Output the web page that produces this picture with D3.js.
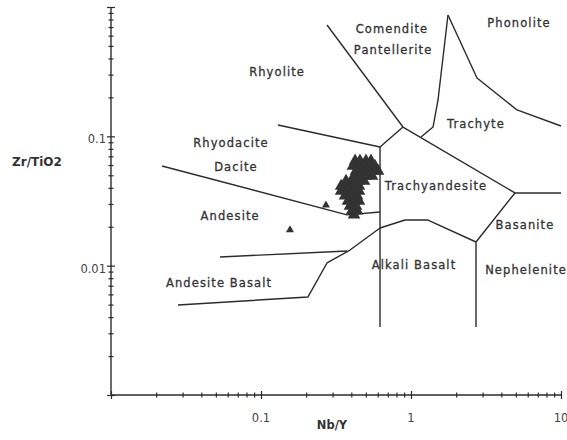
<!DOCTYPE html>
<html>
<head>
<meta charset="utf-8">
<script src="https://cdn.jsdelivr.net/npm/d3@7"></script>
<style>
  html, body { margin: 0; padding: 0; background: #fff; }
  svg { display: block; font-family: "DejaVu Sans", "Liberation Sans", Arial, sans-serif; }
</style>
</head>
<body>
<svg id="chart" width="567" height="440"></svg>
<script>
// Winchester & Floyd (1977) classification: Zr/TiO2 vs Nb/Y, both log scaled.

// Axis tick labels
const xTickLabels = [0.1, 1, 10];
const yTickLabels = [0.1, 0.01];

// Field boundaries, each as parallel [Nb/Y] and [Zr/TiO2] arrays
const boundaryNames = [
  "rhyoliteComendite", "trachyteTrachyandesite", "comenditeTrachyte",
  "phonoliteTrachyte", "phonoliteBasanite", "basaniteNephelinite",
  "rhyodaciteTop", "trachyandesiteWest", "daciteAndesite",
  "andesiteSubalkaliBasalt", "subalkalineAlkaline"
];
const boundaryNbY = [
  [0.2754, 0.8843],
  [0.8843, 4.935],
  [1.166, 1.402, 1.514, 1.764],
  [1.764, 2.754, 5.089, 10],
  [4.935, 10],
  [4.935, 2.713, 2.713],
  [0.1298, 0.6215, 0.8843],
  [0.6215, 0.6215],
  [0.02188, 0.3745, 0.6215],
  [0.05329, 0.3745],
  [0.02797, 0.2057, 0.2754, 0.392, 0.6215, 0.912, 1.298, 2.713]
];
const boundaryZrTi = [
  [0.726, 0.118],
  [0.118, 0.0365],
  [0.0988, 0.118, 0.191, 0.867],
  [0.867, 0.2825, 0.160, 0.1202],
  [0.0365, 0.0365],
  [0.0365, 0.01524, 0.00336],
  [0.1224, 0.0827, 0.118],
  [0.0827, 0.00336],
  [0.0590, 0.0247, 0.0260],
  [0.01167, 0.01298],
  [0.00496, 0.00573, 0.01049, 0.01321, 0.01955, 0.02254, 0.02254, 0.01524]
];

// Field names and their anchor points (Nb/Y, Zr/TiO2)
const fieldNames = ["Phonolite", "Comendite", "Pantellerite", "Rhyolite", "Trachyte",
  "Rhyodacite", "Dacite", "Andesite", "Andesite Basalt", "Trachyandesite",
  "Basanite", "Alkali Basalt", "Nephelenite"];
const fieldNbY = [5.25, 0.747, 0.76, 0.128, 2.71, 0.0631, 0.0681, 0.0623, 0.0525, 1.468, 5.75, 1.047, 5.85];
const fieldZrTi = [0.752, 0.664, 0.465, 0.314, 0.1224, 0.0888, 0.0579, 0.0238, 0.00734, 0.0406, 0.0206, 0.0101, 0.00925];

// Samples (clustered group)
const sampleNbY = [
  0.424, 0.457, 0.501, 0.541,
  0.410, 0.444, 0.486, 0.533, 0.575,
  0.430, 0.471, 0.516, 0.566, 0.603,
  0.417, 0.457, 0.501, 0.550,
  0.369, 0.404, 0.444, 0.486,
  0.342, 0.375, 0.410, 0.450,
  0.342, 0.375, 0.410, 0.450,
  0.363, 0.398, 0.437,
  0.380, 0.417, 0.450,
  0.392, 0.430,
  0.404, 0.437,
  0.417
];
const sampleZrTi = [
  0.0645, 0.0645, 0.0645, 0.0645,
  0.0590, 0.0590, 0.0590, 0.0590, 0.0590,
  0.0539, 0.0539, 0.0539, 0.0539, 0.0539,
  0.0493, 0.0493, 0.0493, 0.0493,
  0.0451, 0.0451, 0.0451, 0.0451,
  0.0413, 0.0413, 0.0413, 0.0413,
  0.0378, 0.0378, 0.0378, 0.0378,
  0.0346, 0.0346, 0.0346,
  0.0316, 0.0316, 0.0316,
  0.0289, 0.0289,
  0.0265, 0.0265,
  0.0247
];
// Outlying samples
const outlierNbY = [0.271, 0.156];
const outlierZrTi = [0.0294, 0.0189];

const ink = "#2b2b2b";
const svg = d3.select("#chart");

const x = d3.scaleLog().domain([0.01, 10]).range([111, 561]);
const y = d3.scaleLog().domain([0.001, 1]).range([395, 7]);

// Axes with ticks crossing the axis line
const xAxis = d3.axisBottom(x).tickValues(x.ticks()).tickSize(3).tickFormat("");
const yAxis = d3.axisLeft(y).tickValues(y.ticks()).tickSize(3).tickFormat("");

const gx = svg.append("g").attr("transform", `translate(0,${y(0.001)})`).call(xAxis);
const gy = svg.append("g").attr("transform", `translate(${x(0.01)},0)`).call(yAxis);

const isDecade = v => Math.abs(Math.log10(v) - Math.round(Math.log10(v))) < 1e-6;
gx.select(".domain").attr("stroke", ink).attr("stroke-width", 1.4).attr("d", `M${x(0.01)},0H${x(10)}`);
gy.select(".domain").attr("stroke", ink).attr("stroke-width", 1.4).attr("d", `M0,${y(1)}V${y(0.001)}`);
gx.selectAll(".tick line").attr("stroke", ink).attr("stroke-width", 1.2)
  .attr("y1", d => isDecade(d) ? -4 : -2.5).attr("y2", d => isDecade(d) ? 4 : 2.5);
gy.selectAll(".tick line").attr("stroke", ink).attr("stroke-width", 1.2)
  .attr("x1", d => isDecade(d) ? 4 : 2.5).attr("x2", d => isDecade(d) ? -4 : -2.5);

// Tick labels
svg.append("g").selectAll("text").data(xTickLabels).join("text")
  .attr("x", d => x(d)).attr("y", y(0.001) + 27)
  .attr("text-anchor", "middle").attr("font-size", 11.5).attr("fill", "#444")
  .text(d => String(d));
svg.append("g").selectAll("text").data(yTickLabels).join("text")
  .attr("x", x(0.01) - 5).attr("y", d => y(d) + 7)
  .attr("text-anchor", "end").attr("font-size", 11.5).attr("fill", "#444")
  .text(d => String(d));

// Axis titles
svg.append("text").attr("x", 332).attr("y", 429).attr("text-anchor", "middle")
  .attr("font-size", 11.5).attr("font-weight", "bold").attr("fill", "#333").text("Nb/Y");
svg.append("text").attr("x", 37).attr("y", 166).attr("text-anchor", "middle")
  .attr("font-size", 12).attr("font-weight", "bold").attr("fill", "#333").text("Zr/TiO2");

// Field boundaries
const line = d3.line().x(d => x(d[0])).y(d => y(d[1]));
svg.append("g").selectAll("path").data(boundaryNames).join("path")
  .attr("d", (n, i) => line(d3.zip(boundaryNbY[i], boundaryZrTi[i])))
  .attr("fill", "none").attr("stroke", ink).attr("stroke-width", 1.4)
  .attr("stroke-linejoin", "round");

// Field labels
svg.append("g").selectAll("text").data(fieldNames).join("text")
  .attr("x", (d, i) => x(fieldNbY[i])).attr("y", (d, i) => y(fieldZrTi[i]))
  .attr("text-anchor", "middle").attr("dominant-baseline", "middle")
  .attr("font-size", 11.5).attr("letter-spacing", 1.1)
  .attr("fill", "#333").attr("stroke", "#333").attr("stroke-width", 0.3)
  .text(d => d);

// Samples
const tri = d3.symbol().type(d3.symbolTriangle);
svg.append("g").selectAll("path").data(d3.zip(sampleNbY, sampleZrTi)).join("path")
  .attr("transform", d => `translate(${x(d[0])},${y(d[1])})`)
  .attr("d", tri.size(70)()).attr("fill", "#333");
svg.append("g").selectAll("path").data(d3.zip(outlierNbY, outlierZrTi)).join("path")
  .attr("transform", d => `translate(${x(d[0])},${y(d[1])})`)
  .attr("d", tri.size(28)()).attr("fill", "#333");
</script>
</body>
</html>
